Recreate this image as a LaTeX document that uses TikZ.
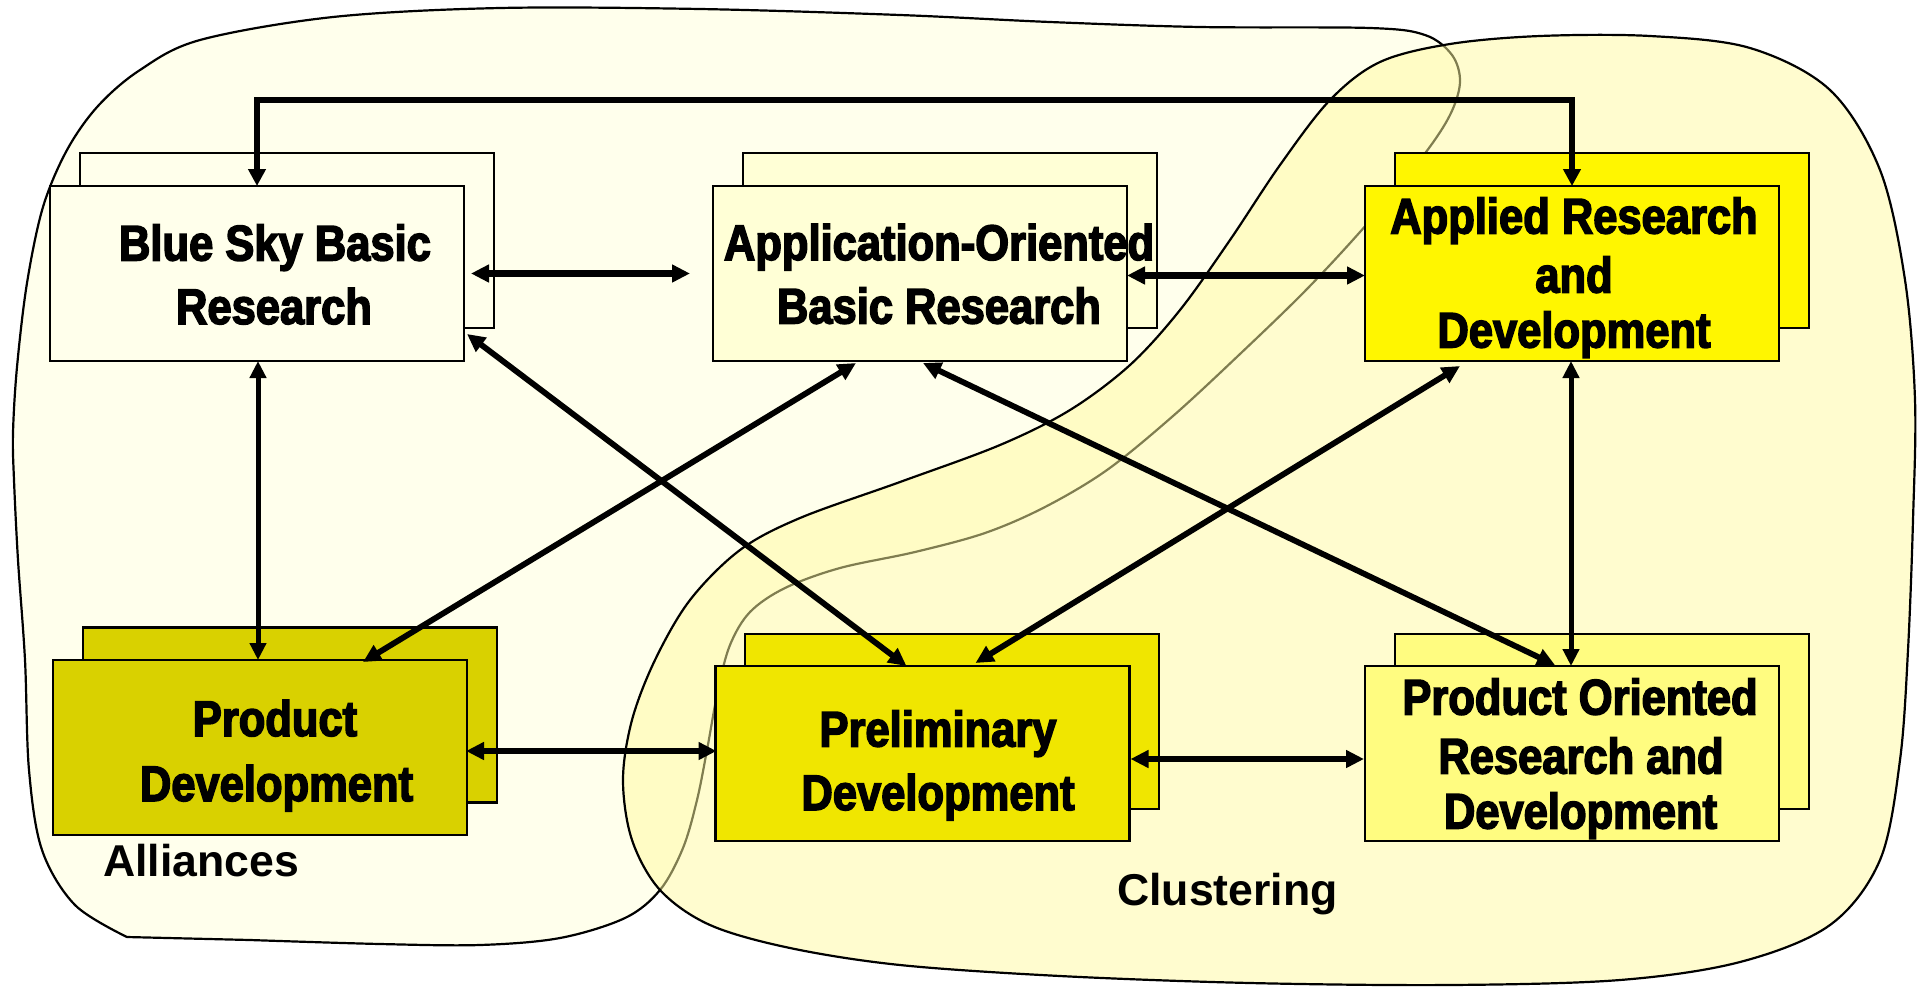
\documentclass[tikz,border=0pt]{standalone}
\usepackage{fontspec}
\setmainfont{Liberation Sans}
\newfontfamily\boxfont{Liberation Sans}[FakeStretch=0.87,FakeBold=3]
\usetikzlibrary{arrows.meta,calc}
\definecolor{allbg}{RGB}{255,255,236}
\definecolor{clubg}{RGB}{255,251,160}
\definecolor{cBS}{RGB}{255,255,235}
\definecolor{cAO}{RGB}{255,255,214}
\definecolor{cAR}{RGB}{255,246,0}
\definecolor{cPD}{RGB}{217,209,0}
\definecolor{cPR}{RGB}{240,230,0}
\definecolor{cPO}{RGB}{255,252,128}
\tikzset{
  stackbox/.style={draw=black, line width=1.2pt, minimum width=207pt, minimum height=87.5pt, inner sep=0pt, outer sep=0pt},
  btxt/.style={font=\boxfont\bfseries\fontsize{25pt}{30pt}\selectfont, anchor=base, inner sep=0pt},
  regionlbl/.style={font=\bfseries\fontsize{22.3pt}{26pt}\selectfont, anchor=base, inner sep=0pt},
  blob/.style={line width=1.1pt, draw=black},
  arrH/.style={line width=3.3pt, {Triangle[length=9pt,width=8.5pt]}-{Triangle[length=9pt,width=8.5pt]}},
  arrD/.style={line width=2.9pt, {Triangle[length=9pt,width=8.5pt]}-{Triangle[length=9pt,width=8.5pt]}},
  arrV/.style={line width=2.5pt, {Triangle[length=8.5pt,width=8pt]}-{Triangle[length=8.5pt,width=8pt]}},
  arrB/.style={line width=2.9pt, {Triangle[length=8.5pt,width=8.5pt]}-{Triangle[length=8.5pt,width=8.5pt]}}
}
\begin{document}
\begin{tikzpicture}[x=0.5pt,y=-0.5pt]
\fill[white] (0,0) rectangle (1917,986);
\useasboundingbox (0,0) rectangle (1917,986);

% Alliances region
\draw[blob, fill=allbg] plot[smooth, tension=0.55] coordinates {(127,937) (75,905) (42,850) (29,770) (25,660) (18,560) (14,480) (13,433) (17,367) (27,283) (43,207) (67,150) (98,106) (140,70) (200,40) (333,17) (500,8) (700,9) (900,15) (1050,22) (1200,27) (1370,28) (1425,35) (1452,55) (1460,82) (1450,115) (1423,156) (1367,224) (1307,289) (1240,354) (1173,416) (1107,470) (1045,507) (985,533) (915,552) (840,568) (785,588) (750,612) (730,645) (718,690) (707,750) (697,800) (683,848) (660,890) (625,918) (560,938) (480,945) (380,944) (250,940)} -- cycle;

% Clustering region
\draw[blob, fill=clubg, fill opacity=0.5] plot[smooth cycle, tension=0.55] coordinates {(1540,36) (1650,36) (1750,48) (1830,90) (1880,170) (1905,280) (1915,400) (1913,520) (1908,650) (1900,760) (1880,860) (1830,925) (1740,962) (1620,980) (1450,985) (1250,983) (1060,976) (900,965) (790,948) (710,925) (660,890) (632,840) (623,780) (632,720) (655,660) (690,600) (740,550) (800,518) (900,482) (1000,445) (1070,410) (1130,365) (1180,310) (1230,240) (1280,165) (1330,100) (1380,62) (1450,44)};

% back boxes
\node[stackbox, fill=cBS] (bsb) at (287,240.5) {};
\node[stackbox, fill=cAO] (aob) at (950,240.5) {};
\node[stackbox, fill=cAR] (arb) at (1602,240.5) {};
\node[stackbox, fill=cPD] (pdb) at (290,715) {};
\node[stackbox, fill=cPR] (prb) at (952,721.5) {};
\node[stackbox, fill=cPO] (pob) at (1602,721.5) {};

% front boxes
\node[stackbox, fill=cBS] (bs) at (257,273.5) {};
\node[stackbox, fill=cAO] (ao) at (920,273.5) {};
\node[stackbox, fill=cAR] (ar) at (1572,273.5) {};
\node[stackbox, fill=cPD] (pd) at (260,747.5) {};
\node[stackbox, fill=cPR] (pr) at (922.5,753.5) {};
\node[stackbox, fill=cPO] (po) at (1572,753.5) {};

% texts
\node[btxt] (bs1) at (275,260.5) {Blue Sky Basic};
\node[btxt] (bs2) at (274,324) {Research};
\node[btxt] (ao1) at (939,260) {Application-Oriented};
\node[btxt] (ao2) at (939,323.5) {Basic Research};
\node[btxt] (ar1) at (1574,233.5) {Applied Research};
\node[btxt] (ar2) at (1574,292.5) {and};
\node[btxt] (ar3) at (1574,347.5) {Development};
\node[btxt] (pd1) at (275,736) {Product};
\node[btxt] (pd2) at (276.5,801) {Development};
\node[btxt] (pr1) at (938,746.5) {Preliminary};
\node[btxt] (pr2) at (938,810) {Development};
\node[btxt] (po1) at (1580,714.5) {Product Oriented};
\node[btxt] (po2) at (1581,773.5) {Research and};
\node[btxt] (po3) at (1580.5,828.5) {Development};

\node[regionlbl] (alli) at (201,876.5) {Alliances};
\node[regionlbl] (clus) at (1227.5,905.5) {Clustering};

% connectors
\draw[arrB] (bs.north) -- ($(bs.north)+(0,-86)$) -| (ar.north);
\draw[arrH] ($(bs.east)+(7,0)$) -- ($(ao.west)+(-23,0)$);
\draw[arrH] ($(ao.east)+(0,2)$) -- ($(ar.west)+(0,2)$);
\draw[arrV] ($(bs.south)+(1,0)$) -- ($(pd.north)+(-2,0)$);
\draw[arrV] ($(ar.south)+(-1,0)$) -- ($(po.north)+(-1,0)$);
\draw[arrH] ($(pd.east)+(-1,3.5)$) -- ($(pr.west)+(1,-2.5)$);
\draw[arrH] ($(pr.east)+(1,5.5)$) -- ($(po.west)+(-1,5.5)$);
\draw[arrD] ($(bs.south east)+(3,-27)$) -- ($(pr.north west)+(191,0)$);
\draw[arrD] ($(ao.south west)+(143,2)$) -- ($(pd.north west)+(310,2)$);
\draw[arrD] ($(ao.south)+(3,2)$) -- ($(po.north west)+(190,-1)$);
\draw[arrD] ($(ar.south west)+(95,5)$) -- ($(pr.north west)+(260,-3)$);
\end{tikzpicture}
\end{document}
